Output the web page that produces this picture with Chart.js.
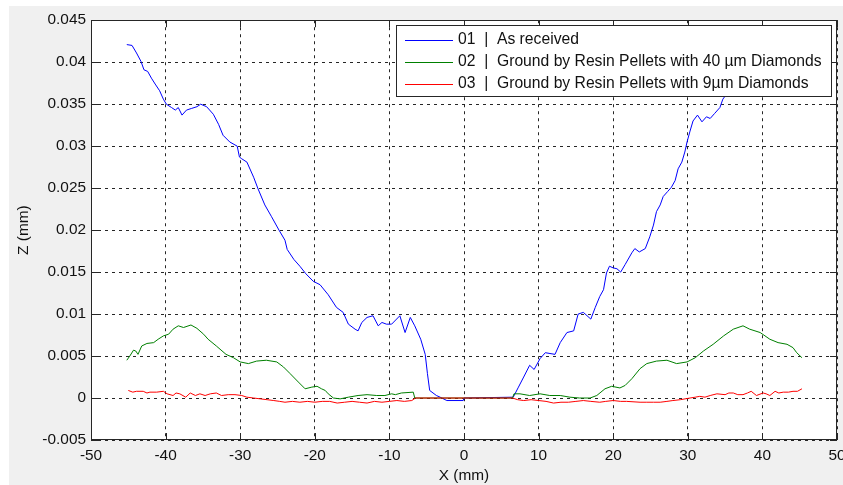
<!DOCTYPE html>
<html>
<head>
<meta charset="utf-8">
<script src="https://cdn.jsdelivr.net/npm/chart.js@4/dist/chart.umd.min.js"></script>
<style>
    html, body { margin: 0; padding: 0; background: #ffffff; }
    #marco { position: absolute; left: 9px; top: 6px; width: 834px; height: 479px; background: #f0f0f0; }
</style>
</head>
<body>
<div id="marco"><canvas id="perfil" width="834" height="479"></canvas></div>
<script>
// ====================== DATOS ======================
const seriesLabels = [
    '01  |  As received',
    '02  |  Ground by Resin Pellets with 40 µm Diamonds',
    '03  |  Ground by Resin Pellets with 9µm Diamonds'
];
const seriesColors = ['#0000ff', '#008000', '#ff0000'];

const xTickValues = [-50, -40, -30, -20, -10, 0, 10, 20, 30, 40, 50];
const xTickLabels = ['-50', '-40', '-30', '-20', '-10', '0', '10', '20', '30', '40', '50'];
const yTickValues = [-0.005, 0, 0.005, 0.01, 0.015, 0.02, 0.025, 0.03, 0.035, 0.04, 0.045];
const yTickLabels = ['-0.005', '0', '0.005', '0.01', '0.015', '0.02', '0.025', '0.03', '0.035', '0.04', '0.045'];

// 01 - As received
const xAsReceived = [-45.2, -44.5, -43.9, -43.3, -42.9, -42.4, -41.9, -41.4, -40.8, -40.3, -39.9, -39.2, -38.7, -38.3,
    -37.8, -37.2, -36.5, -35.8, -35.3, -34.5, -33.6, -32.9, -32.3, -31.4, -30.4, -30.1, -29.8, -29.1, -28.2, -27.6,
    -26.7, -25.8, -24.8, -24.0, -23.7, -22.8, -22.0, -21.2, -20.2, -19.3, -18.2, -17.1, -16.2, -15.5, -14.6, -14.2,
    -13.7, -13.0, -12.2, -11.5, -11.0, -10.4, -9.7, -8.6, -7.9, -7.2, -6.6, -5.8, -5.2, -4.9, -4.6, -3.7, -3.2, -2.3,
    -0.1, 0.0, 6.6, 7.3, 8.0, 8.8, 9.4, 10.2, 10.9, 12.2, 12.9, 13.8, 14.7, 15.3, 16.0, 17.0, 17.6, 18.2, 18.7, 19.1,
    19.5, 20.0, 20.5, 21.0, 21.6, 22.5, 22.9, 23.5, 24.3, 24.9, 25.4, 25.8, 26.3, 26.7, 27.3, 27.8, 28.3, 28.7, 29.2,
    29.6, 29.9, 30.3, 30.7, 31.3, 31.9, 32.5, 33.0, 33.6, 34.3, 34.7, 35.2];
const zAsReceived = [0.0421, 0.0420, 0.0411, 0.0401, 0.0391, 0.0389, 0.0381, 0.0374, 0.0366, 0.0356, 0.0350, 0.0346, 0.0343, 0.0346,
    0.0337, 0.0343, 0.0345, 0.0347, 0.0350, 0.0347, 0.0338, 0.0326, 0.0313, 0.0305, 0.0300, 0.0287, 0.0285, 0.0281, 0.0263, 0.0249,
    0.0230, 0.0216, 0.0200, 0.0188, 0.0177, 0.0165, 0.0157, 0.0148, 0.0139, 0.0135, 0.0123, 0.0108, 0.0102, 0.0088, 0.0082, 0.0080,
    0.0090, 0.0096, 0.0098, 0.0086, 0.0090, 0.0088, 0.0088, 0.0098, 0.0078, 0.0096, 0.0086, 0.0070, 0.0052, 0.0029, 0.0009, 0.0003, 0.0001, -0.0003,
    -0.0003, 0.0, 0.0001, 0.0013, 0.0025, 0.0039, 0.0034, 0.0047, 0.0054, 0.0052, 0.0066, 0.0078, 0.0080, 0.0100, 0.0102, 0.0094, 0.0108, 0.0121, 0.0129, 0.0149,
    0.0157, 0.0155, 0.0154, 0.0150, 0.0159, 0.0173, 0.0178, 0.0174, 0.0178, 0.0192, 0.0206, 0.0222, 0.0230, 0.0240, 0.0246, 0.0251, 0.0259, 0.0273, 0.0281,
    0.0293, 0.0305, 0.0318, 0.0330, 0.0337, 0.0329, 0.0335, 0.0333, 0.0339, 0.0346, 0.0356, 0.0362];

// 02 - Resina con diamante de 40 um
const x40um = [-45.2, -44.8, -44.3, -44.0, -43.7, -43.2, -42.5, -41.6, -41.0, -40.3, -39.6, -39.0, -38.3, -37.6, -36.6, -35.8,
    -34.9, -34.3, -33.2, -31.9, -30.9, -30.0, -28.9, -27.8, -26.5, -25.1, -24.2, -23.3, -22.2, -21.3, -20.4, -19.7, -19.1,
    -18.6, -18.2, -17.5, -16.6, -15.5, -14.2, -13.0, -11.7, -10.6, -9.7, -9.2, -8.4, -6.8, -6.6, 6.5, 6.7, 7.5, 8.8, 10.2,
    11.5, 12.9, 14.2, 15.5, 16.9, 17.8, 18.9, 19.8, 20.9, 21.6, 22.5, 23.6, 24.5, 25.8, 27.2, 28.5, 29.9, 31.0, 32.1, 33.4,
    34.8, 36.1, 37.4, 38.3, 39.7, 41.0, 42.1, 43.3, 44.1, 44.6, 45.3];
const z40um = [0.0045, 0.0050, 0.0057, 0.0056, 0.0052, 0.0062, 0.0065, 0.0066, 0.0070, 0.0074, 0.0076, 0.0082, 0.0086, 0.0084, 0.0087, 0.0083,
    0.0076, 0.0070, 0.0062, 0.0052, 0.0048, 0.0043, 0.0041, 0.0044, 0.0045, 0.0043, 0.0037, 0.0029, 0.0019, 0.0011, 0.0013, 0.0014, 0.0011,
    0.0009, 0.0005, 0.0000, -0.0001, 0.0001, 0.0003, 0.0004, 0.0003, 0.0003, 0.0005, 0.0004, 0.0006, 0.0007, 0.0000, 0.0000, 0.0005, 0.0005, 0.0003, 0.0005,
    0.0003, 0.0003, 0.0001, 0.0000, 0.0000, 0.0003, 0.0011, 0.0014, 0.0012, 0.0015, 0.0023, 0.0035, 0.0041, 0.0044, 0.0045, 0.0041, 0.0043, 0.0048, 0.0056, 0.0064,
    0.0074, 0.0082, 0.0086, 0.0082, 0.0078, 0.0070, 0.0066, 0.0064, 0.0060, 0.0054, 0.0048];

// 03 - Resina con diamante de 9 um
const x9um = [-45.0, -44.4, -43.9, -43.0, -42.5, -42.1, -41.2, -40.3, -39.8, -39.0, -38.6, -38.1, -37.3, -36.7, -36.0, -35.4,
    -34.7, -34.0, -33.2, -32.5, -31.6, -30.7, -29.8, -29.1, -28.2, -27.3, -26.4, -25.5, -24.7, -24.0, -23.0, -22.0, -21.0,
    -20.0, -19.0, -18.0, -17.0, -16.0, -15.0, -14.0, -13.0, -12.0, -11.0, -10.0, -9.0, -8.0, -7.0, -6.5, 6.5, 7.2, 8.0,
    9.0, 10.0, 11.0, 12.0, 13.0, 14.0, 15.0, 16.0, 17.0, 18.2, 19.0, 20.0, 21.0, 21.8, 23.6, 24.5, 25.4, 26.3, 27.2, 28.0,
    29.0, 30.3, 31.0, 31.6, 32.3, 33.0, 33.9, 35.0, 35.5, 36.1, 36.7, 37.4, 38.0, 38.5, 39.2, 40.1, 40.5, 41.0, 41.7, 42.2,
    42.8, 43.5, 44.1, 44.7, 45.3];
const z9um = [0.0009, 0.0007, 0.0008, 0.0008, 0.0006, 0.0007, 0.0007, 0.0008, 0.0005, 0.0003, 0.0006, 0.0005, 0.0001, 0.0006, 0.0003, 0.0005,
    0.0003, 0.0005, 0.0006, 0.0003, 0.0004, 0.0004, 0.0003, 0.0001, 0.0000, -0.0001, -0.0002, -0.0003, -0.0004, -0.0005, -0.0004, -0.0005, -0.0004,
    -0.0005, -0.0004, -0.0004, -0.0006, -0.0005, -0.0004, -0.0005, -0.0006, -0.0004, -0.0005, -0.0004, -0.0003, -0.0004, -0.0003, 0.0000, 0.0000, -0.0002, -0.0003,
    -0.0002, -0.0003, -0.0004, -0.0006, -0.0005, -0.0005, -0.0004, -0.0003, -0.0004, -0.0005, -0.0004, -0.0003, -0.0004, -0.0004, -0.0005, -0.0005, -0.0005, -0.0005, -0.0004, -0.0003,
    -0.0002, 0.0000, 0.0001, 0.0002, 0.0001, 0.0003, 0.0005, 0.0004, 0.0006, 0.0006, 0.0004, 0.0004, 0.0006, 0.0008, 0.0003, 0.0006, 0.0005, 0.0003, 0.0008, 0.0006,
    0.0007, 0.0007, 0.0008, 0.0008, 0.0011];

// Se juntan x y z en pares {x, y} para Chart.js
const aPuntos = (xs, zs) => xs.map((x, i) => ({ x: x, y: zs[i] }));

// ====================== PLUGIN: FONDO, MARCO Y LEYENDA ======================
const marcoMatlab = {
    id: 'marcoMatlab',
    beforeDraw(chart) {
        // Area de la grafica en blanco sobre el fondo gris
        const { ctx, chartArea: a } = chart;
        ctx.save();
        ctx.fillStyle = '#ffffff';
        ctx.fillRect(a.left, a.top, a.right - a.left, a.bottom - a.top);
        ctx.restore();
    },
    afterDatasetsDraw(chart) {
        const { ctx, chartArea: a } = chart;
        const xs = chart.scales.x, ys = chart.scales.y;
        const largo = 7;
        ctx.save();
        ctx.strokeStyle = '#262626';
        ctx.lineWidth = 1;
        ctx.setLineDash([]);
        // Marco completo
        ctx.strokeRect(Math.round(a.left) + 0.5, Math.round(a.top) + 0.5,
            Math.round(a.right - a.left) - 1, Math.round(a.bottom - a.top) - 1);
        // Marcas hacia adentro en los cuatro lados
        ctx.beginPath();
        xTickValues.forEach(v => {
            const px = Math.round(xs.getPixelForValue(v)) + 0.5;
            ctx.moveTo(px, a.bottom); ctx.lineTo(px, a.bottom - largo);
            ctx.moveTo(px, a.top); ctx.lineTo(px, a.top + largo);
        });
        yTickValues.forEach(v => {
            const py = Math.round(ys.getPixelForValue(v)) + 0.5;
            ctx.moveTo(a.left, py); ctx.lineTo(a.left + largo, py);
            ctx.moveTo(a.right, py); ctx.lineTo(a.right - largo, py);
        });
        ctx.stroke();

        // Leyenda con fondo blanco encima de la rejilla
        const caja = { left: 387, top: 19, right: 823, bottom: 91 };
        ctx.fillStyle = '#ffffff';
        ctx.fillRect(caja.left, caja.top, caja.right - caja.left, caja.bottom - caja.top);
        ctx.strokeStyle = '#262626';
        ctx.strokeRect(caja.left + 0.5, caja.top + 0.5, caja.right - caja.left - 1, caja.bottom - caja.top - 1);
        ctx.font = '15.7px "Liberation Sans", Arial, sans-serif';
        ctx.textBaseline = 'middle';
        ctx.textAlign = 'left';
        seriesLabels.forEach((texto, i) => {
            const y = 33.5 + i * 22;
            ctx.strokeStyle = seriesColors[i];
            ctx.beginPath();
            ctx.moveTo(396, Math.round(y) + 0.5);
            ctx.lineTo(444, Math.round(y) + 0.5);
            ctx.stroke();
            ctx.fillStyle = '#111111';
            ctx.fillText(texto, 449, y);
        });
        ctx.restore();
    }
};

// ====================== GRAFICA DE PERFILES ======================
Chart.defaults.font.family = '"Liberation Sans", Arial, sans-serif';
Chart.defaults.font.size = 15.4;
Chart.defaults.color = '#111111';

const perfil = document.getElementById('perfil').getContext('2d');
const perfilChart = new Chart(perfil, {
    type: 'line',
    data: {
        datasets: [
            { label: seriesLabels[0], data: aPuntos(xAsReceived, zAsReceived), borderColor: seriesColors[0], order: 2 },
            { label: seriesLabels[1], data: aPuntos(x40um, z40um), borderColor: seriesColors[1], order: 1 },
            { label: seriesLabels[2], data: aPuntos(x9um, z9um), borderColor: seriesColors[2], order: 0 }
        ]
    },
    options: {
        responsive: false,
        animation: false,
        devicePixelRatio: 1,
        layout: { padding: { left: 0, top: 11, right: 6, bottom: 0 } },
        elements: {
            point: { radius: 0 },
            line: { borderWidth: 1, tension: 0 }
        },
        plugins: {
            legend: { display: false },
            tooltip: { enabled: false }
        },
        scales: {
            x: {
                type: 'linear',
                min: -50,
                max: 50,
                afterBuildTicks: scale => { scale.ticks = xTickValues.map(v => ({ value: v })); },
                afterFit: scale => { scale.height = 45; scale.paddingLeft = 0; scale.paddingRight = 0; },
                ticks: {
                    maxRotation: 0,
                    autoSkip: false,
                    padding: 7,
                    callback: (value, index) => xTickLabels[index]
                },
                grid: { color: '#262626', drawTicks: false },
                border: { display: false, dash: [3, 4] },
                title: { display: true, text: 'X (mm)', padding: { top: 0, bottom: 0 } }
            },
            y: {
                type: 'linear',
                min: -0.005,
                max: 0.045,
                afterBuildTicks: scale => { scale.ticks = yTickValues.map(v => ({ value: v })); },
                afterFit: scale => { scale.width = 82; },
                ticks: {
                    autoSkip: false,
                    padding: 5,
                    callback: (value, index) => yTickLabels[index]
                },
                grid: { color: '#262626', drawTicks: false },
                border: { display: false, dash: [3, 4] },
                title: { display: true, text: 'Z (mm)', padding: { top: 6, bottom: 0 } }
            }
        }
    },
    plugins: [marcoMatlab]
});
</script>
</body>
</html>
